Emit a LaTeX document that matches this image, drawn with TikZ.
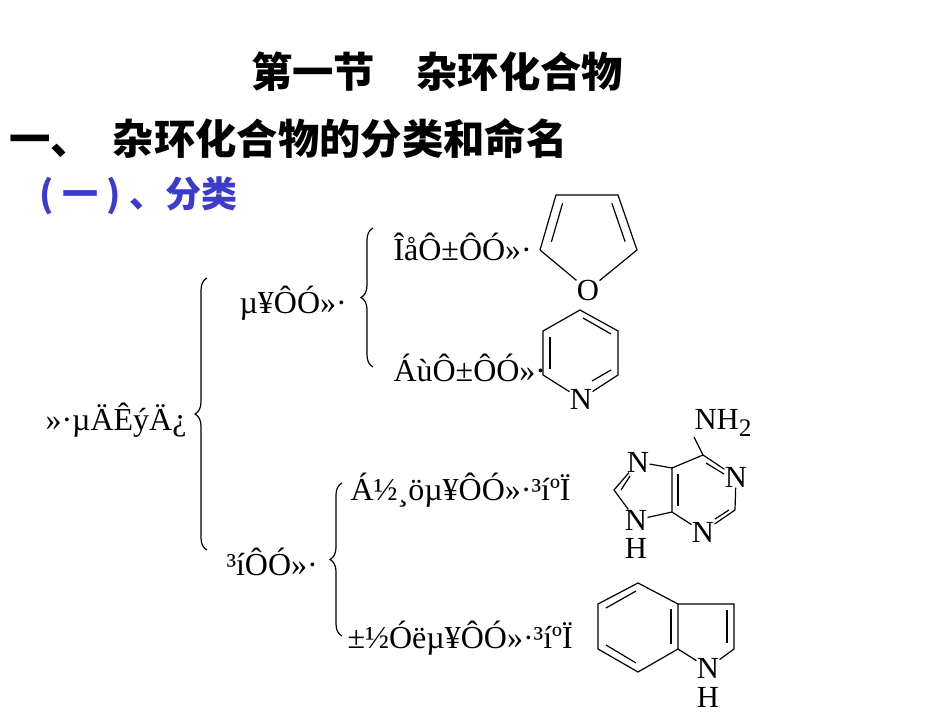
\documentclass[tikz,border=0pt]{standalone}
\usepackage{fontspec}
\setmainfont{Liberation Serif}
\newfontfamily\cjk{Noto Sans CJK SC}
\usetikzlibrary{decorations.pathreplacing,calc}
\definecolor{subblue}{RGB}{60,60,200}
\tikzset{every picture/.style={line width=0.75pt}}
\tikzset{
  lbl/.style={anchor=west,inner sep=0.75pt,font=\fontsize{24}{26}\selectfont},
  atom/.style={inner sep=0pt,font=\fontsize{23}{25}\selectfont},
  cjkhead/.style={inner sep=0.75pt,font=\cjk\bfseries\fontsize{31}{33}\selectfont},
  brc/.style={decorate,decoration={brace,amplitude=9pt},line width=0.9pt},
  bond/.style={line width=0.9pt}
}
\begin{document}
\begin{tikzpicture}[x=0.75pt,y=0.75pt,yscale=-1,xscale=1]
\path[use as bounding box] (0,0) rectangle (950,713);

% Text Node
\node (title) [cjkhead] at (437,72) {第一节\hspace{1em}杂环化合物};
% Text Node
\node (sect) [cjkhead,anchor=west] at (8,138) {一、\hspace{0.5em}杂环化合物的分类和命名};
% Text Node
\node (sub) [cjkhead,anchor=west,text=subblue,font=\cjk\bfseries\fontsize{27}{29}\selectfont] at (38,196) {( 一 ) 、分类};

% Text Node
\node (total) [lbl] at (44,420) {»·µÄÊýÄ¿};
\node (mono) [lbl] at (238,303) {µ¥ÔÓ»·};
\node (fused) [lbl] at (225,562) {³íÔÓ»·};
\node (five) [lbl] at (392,247) {ÎåÔ±ÔÓ»·};
\node (six) [lbl] at (392,368) {ÁùÔ±ÔÓ»·};
\node (twomono) [lbl] at (349,490) {Á½¸öµ¥ÔÓ»·³íºÏ};
\node (benzmono) [lbl] at (346,638) {±½Óëµ¥ÔÓ»·³íºÏ};

%Braces
\draw [brc] (207,550) -- (207,278);
\draw [brc] (373,367) -- (373,228);
\draw [brc] (342,636) -- (342,483);

%Furan
\coordinate (f1) at (556,195);
\coordinate (f2) at (618,195);
\coordinate (f3) at (637,250);
\coordinate (f5) at (540,250);
\node (fO) [atom] at (588,290) {O};
\draw [bond] (f5) -- (f1) -- (f2) -- (f3) -- (fO) -- (f5);
\draw [bond] ($(f5)!0.15!(f1)+(9,0)$) -- ($(f5)!0.85!(f1)+(9,0)$);
\draw [bond] ($(f2)!0.15!(f3)+(-9,0)$) -- ($(f2)!0.85!(f3)+(-9,0)$);

%Pyridine
\coordinate (p1) at (580,310);
\coordinate (p2) at (618,331);
\coordinate (p3) at (618,375);
\node (pN) [atom] at (581,399) {N};
\coordinate (p5) at (543,375);
\coordinate (p6) at (543,331);
\draw [bond] (p5) -- (p6) -- (p1) -- (p2) -- (p3) -- (pN) -- (p5);
\draw [bond] (583,318) -- (611,334);
\draw [bond] (611,370) -- (592,381);
\draw [bond] (550,337) -- (550,369);

%Purine
\node (nh2) [atom,anchor=west] at (694,423) {NH\raisebox{-0.45ex}{\fontsize{19}{20}\selectfont 2}};
\coordinate (c6) at (703,455);
\node (n1) [atom] at (736,477) {N};
\coordinate (c2) at (735,510);
\node (n3) [atom] at (703,532) {N};
\coordinate (c4) at (672,512);
\coordinate (c5) at (672,468);
\node (n7) [atom] at (638,462) {N};
\coordinate (c8) at (614,490);
\node (n9) [atom] at (636,520) {N};
\node (h9) [atom] at (636,548) {H};
\draw [bond] (c6) -- (nh2.south west |- 0,437);
\draw [bond] (c6) -- (n1) (n1) -- (c2) -- (n3) (n3) -- (c4) -- (c5) -- (c6);
\draw [bond] (c5) -- (n7) (n7) -- (c8) -- (n9) (n9) -- (c4);
\draw [bond] (678,474) -- (678,506);
\draw [bond] (706,463) -- (724,474);
\draw [bond] (729,510) -- (715,519);
\draw [bond] (621,490) -- (630,476);

%Indole
\coordinate (b1) at (638,583);
\coordinate (b2) at (678,604);
\coordinate (b3) at (678,649);
\coordinate (b4) at (638,672);
\coordinate (b5) at (598,649);
\coordinate (b6) at (598,604);
\coordinate (i3) at (734,604);
\coordinate (i2) at (734,649);
\node (iN) [atom] at (708,668) {N};
\node (iH) [atom] at (708,697) {H};
\draw [bond] (b1) -- (b2) -- (b3) -- (b4) -- (b5) -- (b6) -- cycle;
\draw [bond] (b2) -- (i3) -- (i2) -- (iN) -- (b3);
\draw [bond] (606,608) -- (636,591);
\draw [bond] (606,645) -- (636,663);
\draw [bond] (671,609) -- (671,644);
\draw [bond] (727,610) -- (727,643);
\end{tikzpicture}
\end{document}
